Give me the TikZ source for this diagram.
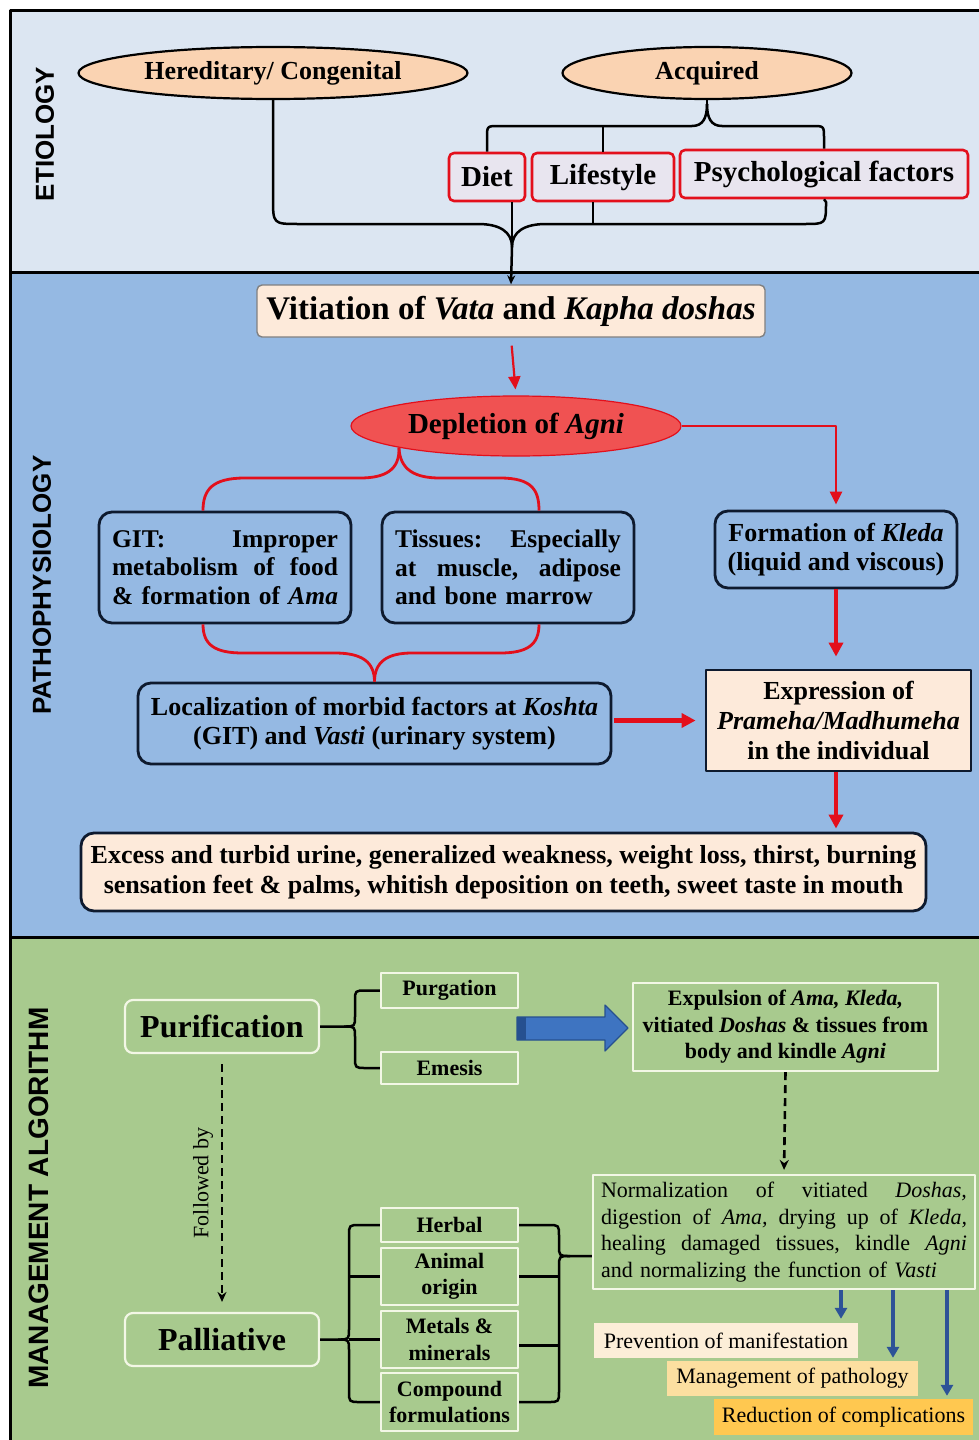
\documentclass[tikz,border=0pt]{standalone}
\usepackage{fontspec}
\setmainfont{Liberation Serif}
\newfontfamily\labelsans{Liberation Sans}
\usetikzlibrary{arrows.meta,shapes.geometric}

\definecolor{etiobg}{HTML}{DCE6F2}
\definecolor{pathbg}{HTML}{95B9E3}
\definecolor{mgmtbg}{HTML}{A8CA8E}
\definecolor{peachfill}{HTML}{FAD3B2}
\definecolor{peachbox}{HTML}{FDEADA}
\definecolor{lavfill}{HTML}{E8E5EF}
\definecolor{boxred}{HTML}{E3101C}
\definecolor{agnifill}{HTML}{F05252}
\definecolor{linered}{HTML}{E30F1B}
\definecolor{navyline}{HTML}{0E1A2E}
\definecolor{cream}{HTML}{F3F7E6}
\definecolor{arrowblue}{HTML}{3E74C1}
\definecolor{arrowedge}{HTML}{26508F}
\definecolor{darkblue}{HTML}{2D5397}
\definecolor{prevfill}{HTML}{FCEED8}
\definecolor{mgmtfill}{HTML}{FCDFA0}
\definecolor{redfill}{HTML}{FFC850}

\newcommand{\fsz}[2]{\fontsize{#1}{#2}\selectfont}
% a full-width justified line: words separated by \hfill
\newcommand{\jline}[2]{\makebox[#1][l]{#2}}

\tikzset{
  seclabel/.style={rotate=90, font=\labelsans\bfseries\fsz{26}{26}, inner sep=0},
  peachell/.style={ellipse, draw=black, line width=2.2pt, fill=peachfill, inner sep=0,
    font=\bfseries\fsz{26}{28}},
  redbox/.style={draw=boxred, line width=2.6pt, rounded corners=5pt, fill=lavfill, inner sep=0,
    minimum height=48pt, font=\bfseries\fsz{29}{30}},
  bluebox/.style={draw=navyline, line width=2.8pt, rounded corners=13pt, fill=pathbg, inner sep=0,
    font=\bfseries\fsz{26}{29}},
  peachrect/.style={draw=navyline, line width=2.8pt, fill=peachbox, inner sep=0,
    font=\bfseries\fsz{26}{30}},
  greenbox/.style={draw=cream, line width=2.2pt, inner sep=0, font=\bfseries\fsz{22}{26.5},
    align=center},
  bigbox/.style={greenbox, rounded corners=8pt, font=\bfseries\fsz{32}{34}},
  tagbox/.style={inner sep=0, font=\fsz{22}{24}},
  blk/.style={draw=black, line width=2.5pt},
  redln/.style={draw=linered, line width=2.8pt},
  redarr/.style={redln, -{Triangle[length=13pt,width=12pt]}},
  thickred/.style={draw=linered, line width=4.5pt, -{Triangle[length=14pt,width=14pt]}},
  dasharr/.style={draw=black, line width=2.6pt, dash pattern=on 8pt off 5pt,
    -{Stealth[length=10pt,width=9pt]}},
  bluearr/.style={draw=darkblue, line width=3.6pt, -{Triangle[length=11pt,width=12pt]}},
}

\begin{document}
\begin{tikzpicture}[x=1pt, y=-1pt, line join=round]
\useasboundingbox (0,0) rectangle (979,1440);

% section bands and frame
\fill[etiobg] (10,10) rectangle (979,272);
\fill[pathbg] (10,272) rectangle (979,937);
\fill[mgmtbg] (10,937) rectangle (979,1440);
\draw[line width=3pt] (10,1440) -- (10,10) -- (979,10);
\draw[line width=3pt] (10,272) -- (979,272);
\draw[line width=3pt] (10,937) -- (979,937);

\node[seclabel] (lblEtio) at (45,134) {ETIOLOGY};
\node[seclabel] (lblPath) at (42,585) {PATHOPHYSIOLOGY};
\node[seclabel, font=\labelsans\bfseries\fsz{28}{28}] (lblMgmt) at (39,1198) {MANAGEMENT ALGORITHM};

% ---------- etiology ----------
\node[peachell, minimum width=389pt, minimum height=52pt] (hered) at (273,73) {Hereditary/ Congenital};
\node[peachell, minimum width=289pt, minimum height=52pt] (acq) at (707,73) {Acquired};
\node[redbox, minimum width=76pt] (diet) at (487,177) {Diet};
\node[redbox, minimum width=142pt] (life) at (603,177) {Lifestyle};
\node[redbox, minimum width=288pt] (psych) at (824,174) {Psychological factors};

\coordinate (acqtip) at (707,104);
\coordinate (acqbar) at (707,126);
\draw[blk] (acq.south) -- (acqtip);
\draw[blk] (diet.north) -- (487,138) .. controls (487,126) .. (499,126) -- (692,126)
  .. controls (703,126) and (707,118) .. (acqtip);
\draw[blk] (psych.north) -- (824,138) .. controls (824,126) .. (812,126) -- (722,126)
  .. controls (711,126) and (707,118) .. (acqtip);
\draw[blk] (life.north) -- (life.north |- acqbar);

\coordinate (etip) at (512,247);
\coordinate (lstem) at (593,224);
\draw[blk] (hered.south) -- (273,198) .. controls (273,224) .. (299,224) -- (478,224)
  .. controls (500,224) and (512,232) .. (etip);
\draw[blk] (psych.south) -- (826,202) .. controls (826,224) .. (804,224) -- (546,224)
  .. controls (524,224) and (512,232) .. (etip);
\draw[blk] (diet.south -| etip) -- (etip);
\draw[blk] (life.south -| lstem) -- (lstem);

% ---------- pathophysiology ----------
\node[draw=gray, line width=1.4pt, rounded corners=5pt, fill=peachbox, minimum width=508pt,
  minimum height=52pt, inner sep=0, font=\bfseries\fsz{33}{34}] (vit) at (511,311)
  {Vitiation of \textit{Vata} and \textit{Kapha doshas}};
\draw[blk, -{Stealth[length=9pt,width=8pt]}] (etip) -- (vit.north);

\node[ellipse, draw=linered, line width=1.2pt, fill=agnifill, minimum width=330pt,
  minimum height=60pt, inner sep=0, font=\bfseries\fsz{29}{30}] (depl) at (516,426)
  {Depletion of \textit{Agni}};
\draw[redarr, line width=2.2pt, shorten <=8pt, shorten >=6pt] (vit.south) -- (depl.north);

\node[bluebox, minimum width=252pt, minimum height=111pt, text width=226pt, align=left,
  font=\bfseries\fsz{25.5}{28.5}] (git) at (225,567.5)
  {\jline{226pt}{GIT:\hfill Improper}\\
   \jline{226pt}{metabolism\hfill of\hfill food}\\
   \jline{226pt}{\&\hfill formation\hfill of\hfill \textit{Ama}}};
\node[bluebox, minimum width=252pt, minimum height=111pt, text width=226pt, align=left,
  font=\bfseries\fsz{25.5}{28.5}] (tis) at (508,567.5)
  {\jline{226pt}{Tissues:\hfill Especially}\\
   \jline{226pt}{at\hfill muscle,\hfill adipose}\\
   and bone marrow};
\node[bluebox, minimum width=242pt, minimum height=77pt, align=center] (kleda) at (836,549.5)
  {Formation of \textit{Kleda}\\(liquid and viscous)};
\node[bluebox, minimum width=473pt, minimum height=81pt, align=center] (loc) at (374.5,723.5)
  {Localization of morbid factors at \textit{Koshta}\\(GIT) and \textit{Vasti} (urinary system)};
\node[peachrect, minimum width=265pt, minimum height=101pt, align=center] (expr) at (838.5,720.5)
  {Expression of\\\textit{Prameha/Madhumeha}\\in the individual};
\node[peachrect, rounded corners=13pt, minimum width=845pt, minimum height=78pt, align=center]
  (excess) at (503.5,872)
  {Excess and turbid urine, generalized weakness, weight loss, thirst, burning\\
   sensation feet \& palms, whitish deposition on teeth, sweet taste in mouth};

% red brace from Agni to the two sites
\draw[redln] (depl.south west) .. controls (400,470) and (385,478) .. (360,478) -- (245,478)
  .. controls (212,478) and (203,490) .. ([xshift=-22pt]git.north);
\draw[redln] (depl.south west) .. controls (400,470) and (415,478) .. (440,478) -- (500,478)
  .. controls (532,478) and (539,490) .. ([xshift=31pt]tis.north);
% red brace joining both into localization
\draw[redln] ([xshift=-22pt]git.south) .. controls (203,645) and (215,653) .. (243,653) -- (335,653)
  .. controls (362,653) and (374.5,662) .. (loc.north);
\draw[redln] ([xshift=31pt]tis.south) .. controls (539,645) and (527,653) .. (500,653) -- (412,653)
  .. controls (387,653) and (374.5,662) .. (loc.north);

\draw[redarr, shorten >=5pt] (depl.east) -| (kleda.north);
\draw[thickred, shorten >=12pt] (kleda.south) -- (kleda.south |- expr.north);
\draw[thickred, shorten <=2pt, shorten >=9pt] (loc.east |- expr.west) -- (expr.west);
\draw[thickred, shorten >=3pt] (expr.south -| kleda.south) -- (excess.north -| kleda.south);

% ---------- management ----------
\node[bigbox, minimum width=194pt, minimum height=53pt] (pur) at (222,1026.5) {Purification};
\node[bigbox, minimum width=194pt, minimum height=53pt] (pal) at (222,1339.5) {Palliative};
\node[greenbox, minimum width=137pt, minimum height=35pt] (purg) at (449.5,990.5) {Purgation};
\node[greenbox, minimum width=137pt, minimum height=32pt] (emes) at (449.5,1068) {Emesis};
\node[greenbox, minimum width=137pt, minimum height=34pt] (herb) at (449.5,1225) {Herbal};
\node[greenbox, minimum width=137pt, minimum height=57pt] (anim) at (449.5,1276.5) {Animal\\origin};
\node[greenbox, minimum width=137pt, minimum height=57pt] (metal) at (449.5,1339.5) {Metals \&\\minerals};
\node[greenbox, minimum width=137pt, minimum height=58pt] (comp) at (449.5,1402) {Compound\\formulations};
\node[greenbox, minimum width=305pt, minimum height=88pt] (expul) at (785.5,1027)
  {Expulsion of \textit{Ama, Kleda,}\\vitiated \textit{Doshas} \& tissues from\\body and kindle \textit{Agni}};
\node[greenbox, font=\fsz{22}{26.5}, minimum width=382pt, minimum height=114pt, text width=366pt,
  align=left] (norm) at (784,1232)
  {\jline{366pt}{Normalization\hfill of\hfill vitiated\hfill \textit{Doshas,}}\\
   \jline{366pt}{digestion\hfill of\hfill \textit{Ama,}\hfill drying\hfill up\hfill of\hfill \textit{Kleda,}}\\
   \jline{366pt}{healing\hfill damaged\hfill tissues,\hfill kindle\hfill \textit{Agni}}\\
   and normalizing the function of \textit{Vasti}};
\node[tagbox, fill=prevfill, minimum width=264pt, minimum height=35pt] (prev) at (726,1340.5)
  {Prevention of manifestation};
\node[tagbox, fill=mgmtfill, minimum width=251pt, minimum height=35pt] (mgmtp) at (792.5,1378.5)
  {Management of pathology};
\node[tagbox, fill=redfill, minimum width=259pt, minimum height=36pt] (redc) at (843.5,1417)
  {Reduction of complications};

\node[rotate=90, font=\fsz{22}{22}, inner sep=0] (fby) at (203,1183) {Followed by};
\draw[dasharr, shorten <=10pt, shorten >=10pt] (pur.south) -- (pal.north);
\draw[dasharr, shorten >=4pt] (expul.south) -- (norm.north);

% brace: purification into its two procedures
\coordinate (purcusp) at (344,1026.5);
\draw[blk] (purg.west) -- (366,990.5) .. controls (355,990.5) .. (355,1001) -- (355,1016)
  .. controls (355,1026.5) .. (purcusp) -- (pur.east);
\draw[blk] (emes.west) -- (366,1068) .. controls (355,1068) .. (355,1057) -- (355,1037)
  .. controls (355,1026.5) .. (purcusp);

% brace: palliative into its four sources
\coordinate (palcusp) at (338,1339.5);
\draw[blk] (herb.west) -- (360,1225) .. controls (349,1225) .. (349,1236) -- (349,1329)
  .. controls (349,1339.5) .. (palcusp) -- (pal.east);
\draw[blk] (comp.west) -- (360,1402) .. controls (349,1402) .. (349,1391) -- (349,1350)
  .. controls (349,1339.5) .. (palcusp);
\draw[blk] (anim.west) -- (anim.west -| 349,0);
\draw[blk] (metal.west) -- (metal.west -| 349,0);

% brace: the four sources into normalization
\coordinate (normcusp) at (570,1256);
\draw[blk] (herb.east) -- (548,1225) .. controls (559,1225) .. (559,1236) -- (559,1245)
  .. controls (559,1256) .. (normcusp) -- (norm.west |- normcusp);
\draw[blk] (comp.east) -- (548,1402) .. controls (559,1402) .. (559,1391) -- (559,1267)
  .. controls (559,1256) .. (normcusp);
\draw[blk] (anim.east) -- (anim.east -| 559,0);
\draw[blk] ([yshift=-6pt]metal.east) -- ([yshift=-6pt]metal.east -| 559,0);

% block arrow towards expulsion
\filldraw[fill=arrowblue, draw=arrowedge, line width=1.2pt]
  (517,1017) -- (605,1017) -- (605,1005) -- (628,1028) -- (605,1051) -- (605,1040) -- (517,1040) -- cycle;
\fill[arrowedge] (517,1017) rectangle (526,1040);

% outcomes
\draw[bluearr, shorten >=4pt] (norm.south -| 841,0) -- (prev.north -| 841,0);
\draw[bluearr, shorten >=3pt] (norm.south -| 893,0) -- (mgmtp.north -| 893,0);
\draw[bluearr, shorten >=3pt] (norm.south -| 947,0) -- (redc.north -| 947,0);

\end{tikzpicture}
\end{document}
